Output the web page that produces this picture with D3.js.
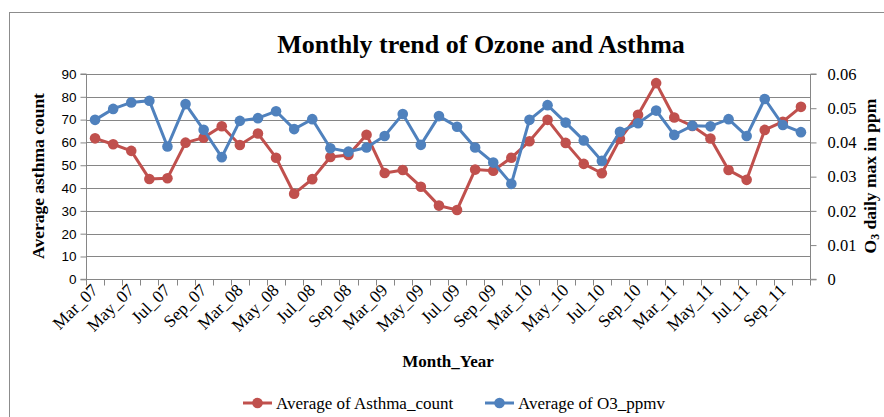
<!DOCTYPE html>
<html><head><meta charset="utf-8">
<script src="https://cdn.jsdelivr.net/npm/d3@7"></script>
<style>body{margin:0;background:#fff}svg{display:block}</style>
</head><body><svg id="c" width="884" height="417"></svg>
<script>
const months = ["Mar","Apr","May","Jun","Jul","Aug","Sep","Oct"];
const years = ["07","08","09","10","11"];
const categories = years.flatMap(y => months.map(m => m + "_" + y));
const asthma = [61.8,59.2,56.3,44.0,44.3,59.9,62.1,67.1,
                58.9,63.9,53.3,37.5,43.9,53.6,54.5,63.4,
                46.6,47.9,40.6,32.3,30.4,48.1,47.6,53.3,
                60.5,69.9,59.8,50.6,46.5,61.5,72.1,86.0,
                70.9,67.2,61.7,47.9,43.6,65.5,69.1,75.6];
const o3 = [0.0466,0.0498,0.0517,0.0522,0.0388,0.0512,0.0437,0.0357,
            0.0463,0.0471,0.0491,0.0439,0.0468,0.0383,0.0373,0.0385,
            0.0419,0.0483,0.0393,0.0477,0.0446,0.0385,0.0341,0.0279,
            0.0466,0.0509,0.0458,0.0406,0.0346,0.0431,0.0456,0.0493,
            0.0422,0.0449,0.0447,0.0468,0.0419,0.0527,0.0451,0.0430];
const leftTicks = [0,10,20,30,40,50,60,70,80,90];
const rightTicks = [0,0.01,0.02,0.03,0.04,0.05,0.06];

const svg = d3.select("#c");
const L = 86, R = 810, T = 74, B = 279.3;
const gray = "#868686";
const red = "#C0504D", blue = "#4F81BD";
const serif = "'Liberation Serif','Times New Roman',serif";
const sans = "'Liberation Sans',Arial,sans-serif";

svg.append("rect").attr("x",9.5).attr("y",12.5).attr("width",900).attr("height",420)
  .attr("fill","none").attr("stroke","#8c8c8c").attr("stroke-width",1);

const x = d3.scaleBand().domain(categories).range([L,R]);
const yL = d3.scaleLinear().domain([0,90]).range([B,T]);
const yR = d3.scaleLinear().domain([0,0.06]).range([B,T]);

// gridlines
svg.append("g").selectAll("line").data(leftTicks.slice(1)).join("line")
  .attr("x1",L).attr("x2",R).attr("y1",d=>Math.round(yL(d))+0.5).attr("y2",d=>Math.round(yL(d))+0.5)
  .attr("stroke",gray).attr("stroke-width",1);

// left axis
const gl = svg.append("g").attr("transform",`translate(${L+0.5},0)`)
  .call(d3.axisLeft(yL).tickValues(leftTicks).tickSize(6).tickPadding(4).tickFormat(d3.format("d")));
gl.selectAll("text").attr("font-family",sans).attr("font-size",13.5).attr("fill","#000");
// right axis
const gr = svg.append("g").attr("transform",`translate(${R+0.5},0)`)
  .call(d3.axisRight(yR).tickValues(rightTicks).tickSize(6).tickPadding(11).tickFormat(d=>d===0?"0":d3.format(".2f")(d)));
gr.selectAll("text").attr("font-family",serif).attr("font-size",16.5).attr("fill","#000");
// bottom axis
const gb = svg.append("g").attr("transform",`translate(0,${Math.round(B)+0.5})`);
gb.append("line").attr("x1",L).attr("x2",R).attr("stroke",gray);
const bounds = categories.map(c=>x(c)).concat([R]);
gb.selectAll("line.t").data(bounds).join("line").attr("class","t")
  .attr("x1",d=>Math.round(d)+0.5).attr("x2",d=>Math.round(d)+0.5).attr("y1",0).attr("y2",6).attr("stroke",gray);
[gl,gr].forEach(g=>{g.selectAll(".domain,.tick line").attr("stroke",gray);});
gl.select(".domain").attr("d",`M-6,${T}H0V${B}H-6`);
gr.select(".domain").attr("d",`M6,${T}H0V${B}H6`);

// x labels
svg.append("g").selectAll("text").data(categories.filter((c,i)=>i%2===0)).join("text")
  .attr("transform",d=>`translate(${x(d)+x.bandwidth()/2+4},${B+12}) rotate(-45)`)
  .attr("text-anchor","end").attr("font-family",serif).attr("font-size",17.5).attr("fill","#000")
  .text(d=>d);

// lines
const lineA = d3.line().x((d,i)=>x(categories[i])+x.bandwidth()/2).y(d=>yL(d));
const lineO = d3.line().x((d,i)=>x(categories[i])+x.bandwidth()/2).y(d=>yR(d));
svg.append("path").datum(asthma).attr("d",lineA).attr("fill","none").attr("stroke",red).attr("stroke-width",3);
svg.append("g").selectAll("circle").data(asthma).join("circle")
  .attr("cx",(d,i)=>x(categories[i])+x.bandwidth()/2).attr("cy",d=>yL(d)).attr("r",5.3).attr("fill",red);
svg.append("path").datum(o3).attr("d",lineO).attr("fill","none").attr("stroke",blue).attr("stroke-width",3);
svg.append("g").selectAll("circle").data(o3).join("circle")
  .attr("cx",(d,i)=>x(categories[i])+x.bandwidth()/2).attr("cy",d=>yR(d)).attr("r",5.3).attr("fill",blue);

// titles
svg.append("text").attr("x",481).attr("y",53).attr("text-anchor","middle")
  .attr("font-family",serif).attr("font-weight","bold").attr("font-size",26).text("Monthly trend of Ozone and Asthma");
svg.append("text").attr("transform",`translate(44,176) rotate(-90)`).attr("text-anchor","middle")
  .attr("font-family",serif).attr("font-weight","bold").attr("font-size",17.5).text("Average asthma count");
const rt = svg.append("text").attr("transform",`translate(876,176) rotate(-90)`).attr("text-anchor","middle")
  .attr("font-family",serif).attr("font-weight","bold").attr("font-size",17.5);
rt.append("tspan").text("O");
rt.append("tspan").attr("font-size",12).attr("dy",3).text("3");
rt.append("tspan").attr("dy",-3).text(" daily max in ppm");
svg.append("text").attr("x",448).attr("y",367).attr("text-anchor","middle")
  .attr("font-family",serif).attr("font-weight","bold").attr("font-size",17).text("Month_Year");

// legend
const legend = [{n:"Average of Asthma_count",c:red,x:243},{n:"Average of O3_ppmv",c:blue,x:485}];
const lg = svg.append("g").selectAll("g").data(legend).join("g").attr("transform",d=>`translate(${d.x},403)`);
lg.append("line").attr("x1",0).attr("x2",29).attr("stroke",d=>d.c).attr("stroke-width",3);
lg.append("circle").attr("cx",14.5).attr("r",5.3).attr("fill",d=>d.c);
lg.append("text").attr("x",33).attr("y",5.5).attr("font-family",serif).attr("font-size",17).text(d=>d.n);
</script></body></html>
